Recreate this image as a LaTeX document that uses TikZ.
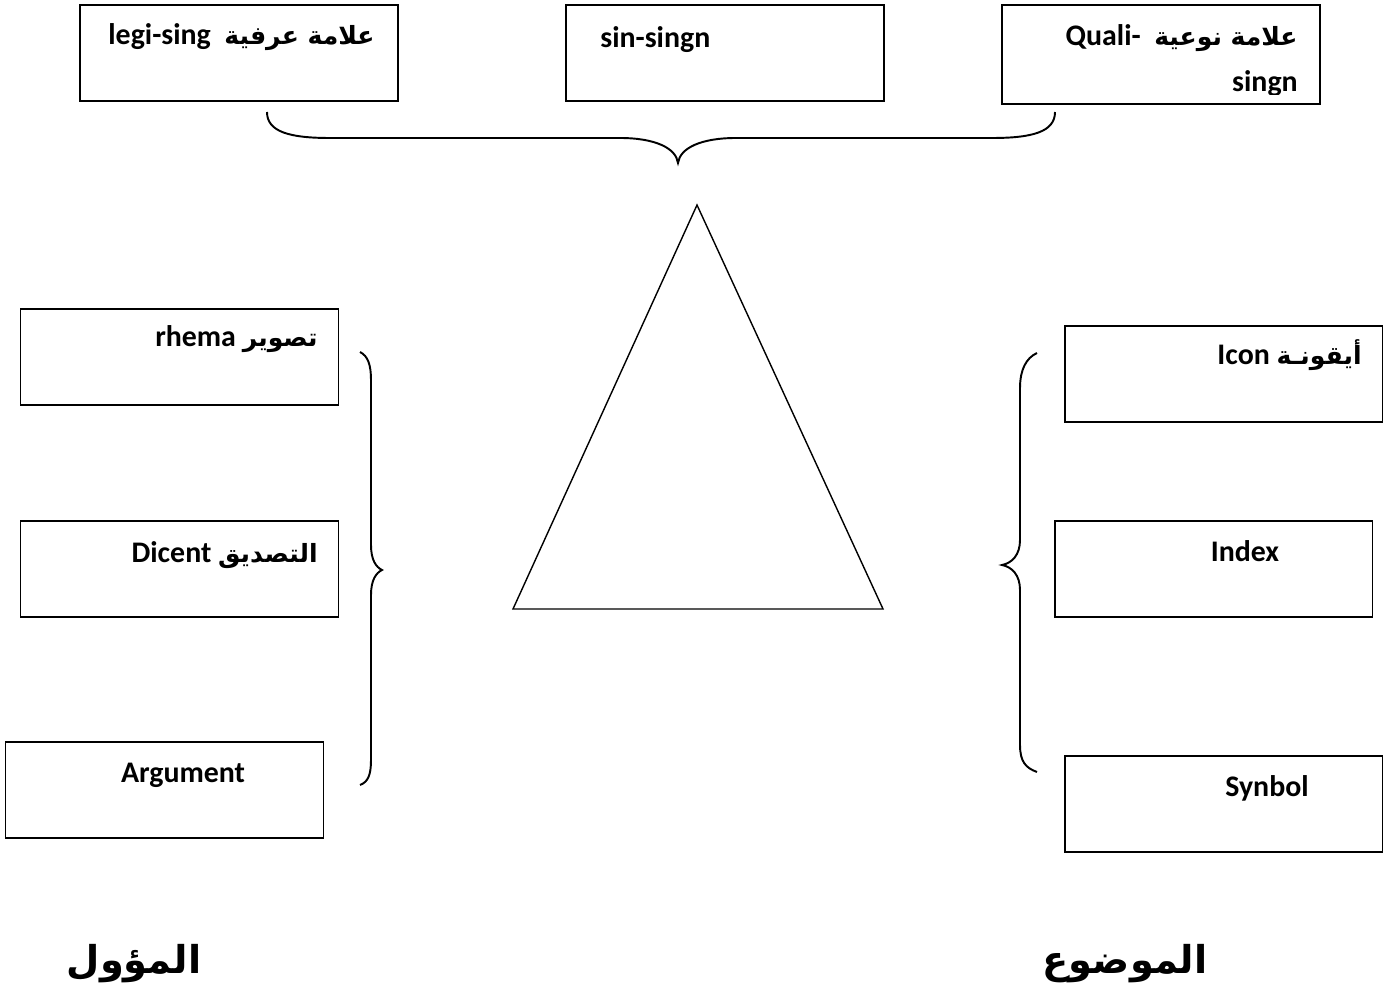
\documentclass[tikz,border=0pt]{standalone}
\usepackage{fontspec}
\setmainfont{Carlito}
\newfontfamily\arabicfont[Script=Arabic, Scale=0.84]{DejaVu Sans}
\TeXXeTstate=1
\usetikzlibrary{positioning}
\newcommand{\artxt}[1]{{\arabicfont\beginR #1\endR}}
\tikzset{
  box/.style={draw=black, line width=1.1pt, minimum width=6.36cm, minimum height=1.92cm, inner sep=0pt},
  brc/.style={draw=black, line width=1.1pt},
  tri/.style={draw=black, line width=0.8pt},
  lbl/.style={font=\fontsize{17}{21}\selectfont\bfseries, inner sep=0pt},
  big/.style={font=\fontsize{26}{30}\selectfont\bfseries, inner sep=0pt}
}

\begin{document}
\begin{tikzpicture}[x=0.02cm, y=-0.02cm]
  \useasboundingbox (0,0) rectangle (1398,996);

  % sign itself
  \node[box] (legi) at (239,53) {};
  \node[box] (sin) at (725,53) {};
  \node[box, minimum height=1.98cm] (quali) at (1161,54.5) {};
  \node[lbl, anchor=base east] (legiT) at (375,45) {legi-sing\ \ \artxt{علامة عرفية}};
  \node[lbl, anchor=base west] (sinT) at (600,48) {sin-singn};
  \node[lbl, anchor=base east] (qualiT) at (1298,46) {Quali-\ \ \artxt{علامة نوعية}};
  \begin{scope}
    \clip (1003,60) rectangle (1319,95);
    \node[lbl, anchor=base east] (qualiS) at (1298,92) {singn};
  \end{scope}
  \draw[brc] (267,112) .. controls (267,132) and (290,138) .. (330,138) -- (620,138)
    .. controls (655,138) and (676,148) .. (678,163)
    .. controls (680,148) and (701,138) .. (736,138) -- (992,138)
    .. controls (1032,138) and (1055,132) .. (1055,112);

  % triangle
  \draw[tri] (697,205) -- (883,609) -- (513,609) -- cycle;

  % interpretant
  \node[box] (rhema) at (179.5,357) {};
  \node[box] (dicent) at (179.5,569) {};
  \node[box] (argument) at (164.5,790) {};
  \node[lbl, anchor=base east] (rhemaT) at (318,347) {rhema\ \artxt{تصوير}};
  \node[lbl, anchor=base east] (dicentT) at (318,562) {Dicent\ \artxt{التصديق}};
  \node[lbl, anchor=base] (argumentT) at (183,782) {Argument};
  \draw[brc] (360,352) .. controls (368,356) and (371,365) .. (371,380) -- (371,545)
    .. controls (371,560) and (376,567) .. (382,570)
    .. controls (376,573) and (371,580) .. (371,595) -- (371,760)
    .. controls (371,775) and (368,782) .. (360,785);

  % object
  \node[box] (icon) at (1223.5,374) {};
  \node[box] (index) at (1213.5,569) {};
  \node[box] (synbol) at (1223.5,804) {};
  \node[lbl, anchor=base east] (iconT) at (1362,365) {Icon\ \artxt{أيقونـة}};
  \node[lbl, anchor=base] (indexT) at (1245,561) {Index};
  \node[lbl, anchor=base] (synbolT) at (1267,796) {Synbol};
  \draw[brc] (1037,353) .. controls (1026,358) and (1020,370) .. (1020,388) -- (1020,540)
    .. controls (1020,555) and (1012,563) .. (1002,565)
    .. controls (1012,567) and (1020,575) .. (1020,590) -- (1020,745)
    .. controls (1020,762) and (1026,768) .. (1037,772);

  \node[big, anchor=base] (objL) at (1125,973) {\artxt{الموضوع}};
  \node[big, anchor=base] (intL) at (134,973) {\artxt{المؤول}};
\end{tikzpicture}
\end{document}
